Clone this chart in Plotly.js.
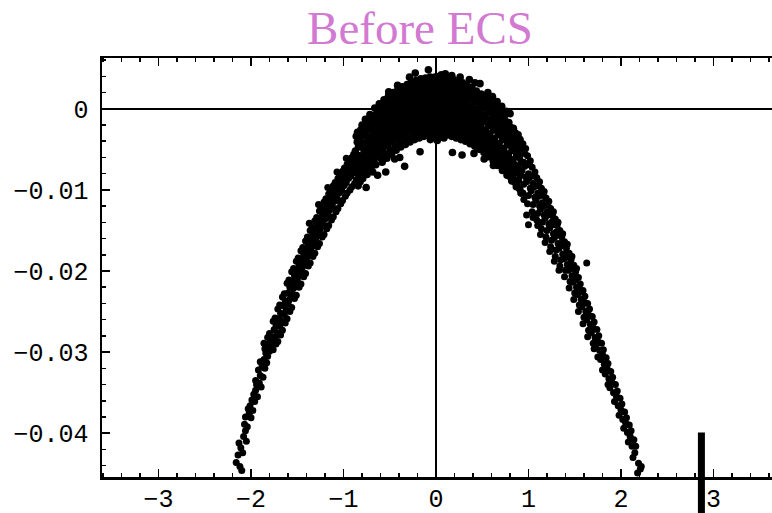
<!DOCTYPE html>
<html>
<head>
<meta charset="utf-8">
<script src="https://cdn.plot.ly/plotly-3.0.1.min.js"></script>
<style>
html,body{margin:0;padding:0;overflow:hidden;background:#fff;}
#chart{width:800px;height:513px;}
</style>
</head>
<body>
<div id="chart"></div>
<script>
// ---- data ----
const chartTitle = "Before ECS";
const xTickVals = [-3, -2, -1, 0, 1, 2, 3];
const yTickVals = [0, -0.01, -0.02, -0.03, -0.04];
const xRange = [-3.611, 3.936];
const yRange = [-0.0454, 0.00626];
const barX = 2.87;        // thick vertical marker bar
const barTopY = -0.0399;  // its upper end (data units)

const leftArm = [
[-2.16,-0.0436],[-2.14,-0.0427],[-2.12,-0.0441],[-2.10,-0.0446],[-2.11,-0.0418],[-2.09,-0.0424],[-2.13,-0.0412],
[-2.08,-0.0404],[-2.06,-0.0397],[-2.07,-0.0389],[-2.05,-0.0410],[-2.04,-0.0392],[-2.06,-0.0380],
[-2.02,-0.0376],[-2.00,-0.0381],[-2.01,-0.0366],[-1.99,-0.0359],[-2.03,-0.0370],[-1.98,-0.0372],
[-1.97,-0.0352],[-1.95,-0.0347],[-1.96,-0.0361],[-1.94,-0.0340],[-1.93,-0.0355],[-1.95,-0.0335],
[-1.91,-0.0338],[-1.90,-0.0329],[-1.92,-0.0322],[-1.89,-0.0343],[-1.88,-0.0317],[-1.90,-0.0312],[-1.87,-0.0331],
[-1.86,-0.0309],[-1.85,-0.0320],[-1.84,-0.0301],[-1.83,-0.0313],[-1.85,-0.0296],[-1.82,-0.0305],[-1.86,-0.0289],
[-1.81,-0.0290],[-1.80,-0.0299],[-1.79,-0.0283],[-1.78,-0.0294],[-1.80,-0.0277],[-1.77,-0.0286],[-1.82,-0.0282],[-1.76,-0.0297],
[-1.75,-0.0272],[-1.74,-0.0281],[-1.73,-0.0266],[-1.72,-0.0276],[-1.76,-0.0262],[-1.71,-0.0287],[-1.74,-0.0258],[-1.73,-0.0290],
[-1.70,-0.0259],[-1.69,-0.0268],[-1.68,-0.0252],[-1.67,-0.0262],[-1.71,-0.0247],[-1.66,-0.0273],[-1.69,-0.0242],[-1.68,-0.0279],
[-1.65,-0.0243],[-1.64,-0.0254],[-1.63,-0.0237],[-1.62,-0.0248],[-1.66,-0.0232],[-1.61,-0.0259],[-1.64,-0.0228],[-1.63,-0.0264],[-1.60,-0.0240],
[-1.60,-0.0227],[-1.59,-0.0236],[-1.58,-0.0220],[-1.57,-0.0232],[-1.61,-0.0215],[-1.56,-0.0245],[-1.59,-0.0211],[-1.58,-0.0250],[-1.55,-0.0228],
[-1.55,-0.0213],[-1.54,-0.0221],[-1.53,-0.0206],[-1.52,-0.0217],[-1.56,-0.0201],[-1.51,-0.0230],[-1.54,-0.0197],[-1.53,-0.0234],[-1.50,-0.0212],
[-1.50,-0.0199],[-1.49,-0.0207],[-1.48,-0.0193],[-1.47,-0.0203],[-1.51,-0.0188],[-1.46,-0.0216],[-1.49,-0.0184],[-1.48,-0.0220],[-1.45,-0.0198],[-1.47,-0.0190],
[-1.45,-0.0185],[-1.44,-0.0194],[-1.43,-0.0180],[-1.42,-0.0190],[-1.46,-0.0175],[-1.41,-0.0203],[-1.44,-0.0171],[-1.43,-0.0207],[-1.40,-0.0185],[-1.42,-0.0177],
[-1.40,-0.0173],[-1.39,-0.0181],[-1.38,-0.0167],[-1.37,-0.0178],[-1.41,-0.0163],[-1.36,-0.0190],[-1.39,-0.0158],[-1.38,-0.0194],[-1.35,-0.0172],[-1.37,-0.0165],
[-1.35,-0.0160],[-1.34,-0.0169],[-1.33,-0.0155],[-1.32,-0.0166],[-1.36,-0.0150],[-1.31,-0.0178],[-1.34,-0.0146],[-1.33,-0.0182],[-1.30,-0.0160],[-1.32,-0.0153],[-1.37,-0.0141],
[-1.30,-0.0148],[-1.29,-0.0157],[-1.28,-0.0143],[-1.27,-0.0154],[-1.31,-0.0138],[-1.26,-0.0166],[-1.29,-0.0134],[-1.28,-0.0170],[-1.25,-0.0148],[-1.27,-0.0141],
[-1.25,-0.0137],[-1.24,-0.0145],[-1.23,-0.0131],[-1.22,-0.0142],[-1.26,-0.0126],[-1.21,-0.0155],[-1.24,-0.0122],[-1.23,-0.0158],[-1.20,-0.0136],[-1.22,-0.0129],[-1.27,-0.0118],
[-1.20,-0.0126],[-1.19,-0.0134],[-1.18,-0.0120],[-1.17,-0.0131],[-1.21,-0.0115],[-1.16,-0.0144],[-1.19,-0.0111],[-1.18,-0.0148],[-1.15,-0.0125],[-1.17,-0.0118],
[-1.15,-0.0116],[-1.14,-0.0123],[-1.13,-0.0110],[-1.12,-0.0120],[-1.16,-0.0105],[-1.11,-0.0133],[-1.14,-0.0101],[-1.13,-0.0137],[-1.10,-0.0114],[-1.12,-0.0108],[-1.17,-0.0097],
[-1.10,-0.0106],[-1.09,-0.0113],[-1.08,-0.0100],[-1.07,-0.0110],[-1.11,-0.0095],[-1.06,-0.0123],[-1.09,-0.0091],[-1.08,-0.0127],[-1.05,-0.0104],[-1.07,-0.0098],
[-1.05,-0.0096],[-1.04,-0.0103],[-1.03,-0.0091],[-1.02,-0.0100],[-1.06,-0.0086],[-1.01,-0.0113],[-1.04,-0.0082],[-1.03,-0.0117],[-1.00,-0.0095],[-1.02,-0.0089],[-1.07,-0.0078],
[-1.00,-0.0087],[-0.99,-0.0094],[-0.98,-0.0082],[-0.97,-0.0091],[-1.01,-0.0077],[-0.96,-0.0104],[-0.99,-0.0073],[-0.98,-0.0108],[-0.95,-0.0086],[-0.97,-0.0080],
[-0.95,-0.0078],[-0.94,-0.0085],[-0.93,-0.0073],[-0.92,-0.0083],[-0.96,-0.0068],[-0.91,-0.0096],[-0.94,-0.0064],[-0.93,-0.0100],[-0.90,-0.0078],[-0.92,-0.0071],[-0.97,-0.0061],
[-0.90,-0.0070],[-0.89,-0.0077],[-0.88,-0.0065],[-0.87,-0.0075],[-0.91,-0.0060],[-0.86,-0.0088],[-0.89,-0.0056],[-0.88,-0.0092],[-0.86,-0.0069],[-0.87,-0.0062]
];

const cap = [
[-0.862,-0.0034],[-0.838,-0.0047],[-0.851,-0.0041],[-0.829,-0.0058],[-0.871,-0.0052],[-0.846,-0.0066],[-0.833,-0.0073],[-0.866,-0.0079],[-0.855,-0.0088],[-0.842,-0.0095],[-0.827,-0.0083],[-0.869,-0.0061],[-0.848,-0.0029],
[-0.812,-0.0026],[-0.787,-0.0033],[-0.803,-0.0045],[-0.824,-0.0039],[-0.778,-0.0051],[-0.796,-0.0058],[-0.817,-0.0064],[-0.784,-0.0071],[-0.808,-0.0077],[-0.792,-0.0086],[-0.821,-0.0090],[-0.776,-0.0062],[-0.799,-0.0020],
[-0.763,-0.0013],[-0.741,-0.0021],[-0.757,-0.0028],[-0.733,-0.0035],[-0.769,-0.0042],[-0.748,-0.0047],[-0.736,-0.0054],[-0.766,-0.0059],[-0.752,-0.0068],[-0.729,-0.0073],[-0.745,-0.0081],[-0.771,-0.0077],[-0.739,-0.0064],[-0.755,-0.0097],
[-0.714,-0.0007],[-0.689,-0.0013],[-0.706,-0.0019],[-0.723,-0.0025],[-0.681,-0.0031],[-0.697,-0.0036],[-0.718,-0.0043],[-0.686,-0.0049],[-0.709,-0.0055],[-0.693,-0.0061],[-0.721,-0.0066],[-0.701,-0.0072],[-0.684,-0.0078],[-0.712,-0.0040],
[-0.662,0.0001],[-0.641,-0.0006],[-0.657,-0.0012],[-0.634,-0.0018],[-0.672,-0.0023],[-0.649,-0.0029],[-0.629,-0.0034],[-0.666,-0.0040],[-0.645,-0.0046],[-0.654,-0.0052],[-0.637,-0.0058],[-0.669,-0.0063],[-0.651,-0.0069],[-0.643,-0.0026],[-0.631,-0.0082],
[-0.613,0.0006],[-0.592,0.0000],[-0.606,-0.0006],[-0.584,-0.0011],[-0.621,-0.0016],[-0.598,-0.0022],[-0.579,-0.0027],[-0.617,-0.0033],[-0.603,-0.0038],[-0.589,-0.0044],[-0.609,-0.0050],[-0.624,-0.0055],[-0.594,-0.0061],[-0.582,-0.0066],[-0.601,-0.0019],
[-0.562,0.0011],[-0.541,0.0005],[-0.556,-0.0001],[-0.534,-0.0007],[-0.571,-0.0012],[-0.548,-0.0017],[-0.528,-0.0023],[-0.566,-0.0028],[-0.552,-0.0034],[-0.537,-0.0039],[-0.559,-0.0045],[-0.574,-0.0050],[-0.545,-0.0056],[-0.531,-0.0061],[-0.554,-0.0020],[-0.543,-0.0078],
[-0.513,0.0016],[-0.491,0.0010],[-0.506,0.0004],[-0.484,-0.0002],[-0.521,-0.0007],[-0.498,-0.0012],[-0.478,-0.0018],[-0.517,-0.0023],[-0.502,-0.0029],[-0.488,-0.0034],[-0.509,-0.0040],[-0.524,-0.0045],[-0.494,-0.0051],[-0.481,-0.0056],[-0.504,-0.0015],[-0.511,0.0021],
[-0.463,0.0020],[-0.441,0.0014],[-0.456,0.0009],[-0.434,0.0003],[-0.471,-0.0002],[-0.448,-0.0008],[-0.428,-0.0013],[-0.467,-0.0018],[-0.452,-0.0024],[-0.437,-0.0029],[-0.459,-0.0035],[-0.474,-0.0040],[-0.444,-0.0046],[-0.431,-0.0051],[-0.454,-0.0010],[-0.446,-0.0062],
[-0.412,0.0024],[-0.391,0.0018],[-0.406,0.0013],[-0.384,0.0007],[-0.421,0.0002],[-0.398,-0.0004],[-0.378,-0.0009],[-0.417,-0.0014],[-0.402,-0.0020],[-0.388,-0.0025],[-0.409,-0.0031],[-0.424,-0.0036],[-0.394,-0.0042],[-0.381,-0.0047],[-0.404,-0.0006],[-0.392,-0.0060],[-0.415,0.0029],
[-0.363,0.0027],[-0.341,0.0021],[-0.356,0.0016],[-0.334,0.0010],[-0.371,0.0005],[-0.348,-0.0001],[-0.328,-0.0006],[-0.367,-0.0011],[-0.352,-0.0017],[-0.337,-0.0022],[-0.359,-0.0028],[-0.374,-0.0033],[-0.344,-0.0039],[-0.331,-0.0044],[-0.354,-0.0003],[-0.339,-0.0071],[-0.346,0.0013],
[-0.312,0.0030],[-0.291,0.0024],[-0.306,0.0019],[-0.284,0.0013],[-0.321,0.0008],[-0.298,0.0002],[-0.278,-0.0003],[-0.317,-0.0008],[-0.302,-0.0014],[-0.288,-0.0019],[-0.309,-0.0025],[-0.324,-0.0030],[-0.294,-0.0036],[-0.281,-0.0041],[-0.304,0.0005],[-0.286,0.0039],[-0.296,-0.0022],
[-0.263,0.0033],[-0.241,0.0027],[-0.256,0.0022],[-0.234,0.0016],[-0.271,0.0011],[-0.248,0.0005],[-0.228,0.0000],[-0.267,-0.0005],[-0.252,-0.0011],[-0.237,-0.0016],[-0.259,-0.0022],[-0.274,-0.0027],[-0.244,-0.0033],[-0.231,-0.0038],[-0.254,0.0008],[-0.224,0.0044],[-0.246,-0.0019],
[-0.212,0.0035],[-0.191,0.0029],[-0.206,0.0024],[-0.184,0.0018],[-0.221,0.0013],[-0.198,0.0007],[-0.178,0.0002],[-0.217,-0.0003],[-0.202,-0.0009],[-0.188,-0.0014],[-0.209,-0.0020],[-0.224,-0.0025],[-0.194,-0.0031],[-0.181,-0.0036],[-0.204,0.0010],[-0.186,-0.0017],[-0.172,-0.0053],[-0.214,0.0031],
[-0.163,0.0037],[-0.141,0.0031],[-0.156,0.0026],[-0.134,0.0020],[-0.171,0.0015],[-0.148,0.0009],[-0.128,0.0004],[-0.167,-0.0001],[-0.152,-0.0007],[-0.137,-0.0012],[-0.159,-0.0018],[-0.174,-0.0023],[-0.144,-0.0029],[-0.131,-0.0034],[-0.154,0.0012],[-0.146,-0.0021],[-0.161,0.0033],
[-0.112,0.0038],[-0.091,0.0032],[-0.106,0.0027],[-0.084,0.0021],[-0.121,0.0016],[-0.098,0.0010],[-0.078,0.0005],[-0.117,0.0000],[-0.102,-0.0006],[-0.088,-0.0011],[-0.109,-0.0017],[-0.124,-0.0022],[-0.094,-0.0028],[-0.081,-0.0033],[-0.104,0.0013],[-0.082,0.0048],[-0.096,-0.0019],[-0.114,0.0035],
[-0.063,0.0039],[-0.041,0.0033],[-0.056,0.0028],[-0.034,0.0022],[-0.071,0.0017],[-0.048,0.0011],[-0.028,0.0006],[-0.067,0.0001],[-0.052,-0.0005],[-0.037,-0.0010],[-0.059,-0.0016],[-0.074,-0.0021],[-0.044,-0.0027],[-0.031,-0.0032],[-0.054,0.0014],[-0.061,-0.0038],[-0.046,-0.0018],[-0.039,0.0036],
[-0.012,0.0039],[0.009,0.0034],[-0.006,0.0028],[0.016,0.0023],[-0.021,0.0017],[0.002,0.0012],[0.022,0.0006],[-0.017,0.0001],[-0.002,-0.0004],[0.012,-0.0010],[-0.009,-0.0015],[-0.024,-0.0021],[0.006,-0.0026],[0.019,-0.0032],[-0.004,0.0015],[0.014,-0.0039],[-0.014,-0.0018],[0.004,0.0031],
[0.037,0.0040],[0.059,0.0033],[0.044,0.0029],[0.066,0.0022],[0.029,0.0018],[0.052,0.0011],[0.072,0.0007],[0.033,0.0000],[0.048,-0.0005],[0.063,-0.0011],[0.041,-0.0016],[0.026,-0.0022],[0.056,-0.0027],[0.069,-0.0033],[0.046,0.0015],[0.058,0.0042],[0.039,-0.0019],[0.061,0.0036],
[0.088,0.0038],[0.109,0.0033],[0.094,0.0027],[0.116,0.0023],[0.079,0.0016],[0.102,0.0012],[0.122,0.0005],[0.083,0.0001],[0.098,-0.0006],[0.112,-0.0010],[0.091,-0.0017],[0.076,-0.0021],[0.106,-0.0028],[0.119,-0.0032],[0.096,0.0014],[0.101,0.0043],[0.086,-0.0036],[0.111,-0.0019],
[0.137,0.0038],[0.159,0.0032],[0.144,0.0026],[0.166,0.0021],[0.129,0.0015],[0.152,0.0010],[0.172,0.0004],[0.133,-0.0001],[0.148,-0.0007],[0.163,-0.0012],[0.141,-0.0018],[0.126,-0.0023],[0.156,-0.0029],[0.169,-0.0034],[0.146,0.0013],[0.171,0.0041],[0.178,-0.0054],[0.154,-0.0020],
[0.188,0.0036],[0.209,0.0030],[0.194,0.0024],[0.216,0.0019],[0.179,0.0013],[0.202,0.0008],[0.222,0.0002],[0.183,-0.0003],[0.198,-0.0009],[0.212,-0.0014],[0.191,-0.0020],[0.176,-0.0025],[0.206,-0.0031],[0.219,-0.0036],[0.196,0.0011],[0.204,-0.0017],[0.186,0.0033],
[0.237,0.0034],[0.259,0.0028],[0.244,0.0022],[0.266,0.0017],[0.229,0.0011],[0.252,0.0006],[0.272,0.0000],[0.233,-0.0005],[0.248,-0.0011],[0.263,-0.0016],[0.241,-0.0022],[0.226,-0.0027],[0.256,-0.0033],[0.269,-0.0038],[0.246,0.0009],[0.261,0.0039],[0.282,-0.0057],[0.254,-0.0019],
[0.288,0.0032],[0.309,0.0026],[0.294,0.0020],[0.316,0.0015],[0.279,0.0009],[0.302,0.0004],[0.322,-0.0002],[0.283,-0.0007],[0.298,-0.0013],[0.312,-0.0018],[0.291,-0.0024],[0.276,-0.0029],[0.306,-0.0035],[0.319,-0.0040],[0.296,0.0007],[0.304,-0.0021],[0.311,0.0029],
[0.337,0.0029],[0.359,0.0023],[0.344,0.0017],[0.366,0.0012],[0.329,0.0006],[0.352,0.0001],[0.372,-0.0005],[0.333,-0.0010],[0.348,-0.0016],[0.363,-0.0021],[0.341,-0.0027],[0.326,-0.0032],[0.356,-0.0038],[0.369,-0.0043],[0.346,0.0004],[0.361,0.0036],[0.354,-0.0024],
[0.388,0.0026],[0.409,0.0020],[0.394,0.0014],[0.416,0.0009],[0.379,0.0003],[0.402,-0.0002],[0.422,-0.0008],[0.383,-0.0013],[0.398,-0.0019],[0.412,-0.0024],[0.391,-0.0030],[0.376,-0.0035],[0.406,-0.0041],[0.419,-0.0046],[0.396,0.0001],[0.421,0.0032],[0.404,-0.0027],[0.411,-0.0055],
[0.437,0.0022],[0.459,0.0016],[0.444,0.0010],[0.466,0.0005],[0.429,-0.0001],[0.452,-0.0006],[0.472,-0.0012],[0.433,-0.0017],[0.448,-0.0023],[0.463,-0.0028],[0.441,-0.0034],[0.426,-0.0039],[0.456,-0.0045],[0.469,-0.0050],[0.446,-0.0003],[0.476,0.0031],[0.454,-0.0031],
[0.488,0.0018],[0.509,0.0012],[0.494,0.0006],[0.516,0.0001],[0.479,-0.0005],[0.502,-0.0010],[0.522,-0.0016],[0.483,-0.0021],[0.498,-0.0027],[0.512,-0.0032],[0.491,-0.0038],[0.476,-0.0043],[0.506,-0.0049],[0.519,-0.0054],[0.496,-0.0007],[0.504,-0.0035],[0.521,-0.0062],
[0.537,0.0013],[0.559,0.0007],[0.544,0.0001],[0.566,-0.0004],[0.529,-0.0010],[0.552,-0.0015],[0.572,-0.0021],[0.533,-0.0026],[0.548,-0.0032],[0.563,-0.0037],[0.541,-0.0043],[0.526,-0.0048],[0.556,-0.0054],[0.569,-0.0059],[0.546,-0.0012],[0.561,0.0020],[0.554,-0.0040],
[0.588,0.0008],[0.609,0.0002],[0.594,-0.0004],[0.616,-0.0009],[0.579,-0.0015],[0.602,-0.0020],[0.622,-0.0026],[0.583,-0.0031],[0.598,-0.0037],[0.612,-0.0042],[0.591,-0.0048],[0.576,-0.0053],[0.606,-0.0059],[0.619,-0.0064],[0.596,-0.0017],[0.611,0.0015],[0.604,-0.0045],[0.621,-0.0070],
[0.637,0.0002],[0.659,-0.0004],[0.644,-0.0010],[0.666,-0.0015],[0.629,-0.0021],[0.652,-0.0026],[0.672,-0.0032],[0.633,-0.0037],[0.648,-0.0043],[0.663,-0.0048],[0.641,-0.0054],[0.626,-0.0059],[0.656,-0.0065],[0.669,-0.0070],[0.646,-0.0023],[0.661,0.0009],[0.654,-0.0051],
[0.688,-0.0004],[0.709,-0.0010],[0.694,-0.0016],[0.716,-0.0021],[0.679,-0.0027],[0.702,-0.0032],[0.722,-0.0038],[0.683,-0.0043],[0.698,-0.0049],[0.712,-0.0054],[0.691,-0.0060],[0.676,-0.0065],[0.706,-0.0071],[0.719,-0.0076],[0.696,-0.0029],[0.711,0.0003],[0.704,-0.0057],
[0.737,-0.0010],[0.759,-0.0016],[0.744,-0.0022],[0.766,-0.0027],[0.729,-0.0033],[0.752,-0.0038],[0.772,-0.0044],[0.733,-0.0049],[0.748,-0.0055],[0.763,-0.0060],[0.741,-0.0066],[0.726,-0.0071],[0.756,-0.0077],[0.769,-0.0082],[0.746,-0.0035],[0.761,-0.0003],[0.754,-0.0063],
[0.788,-0.0017],[0.809,-0.0023],[0.794,-0.0029],[0.816,-0.0034],[0.779,-0.0040],[0.802,-0.0045],[0.822,-0.0051],[0.783,-0.0056],[0.798,-0.0062],[0.812,-0.0067],[0.791,-0.0073],[0.776,-0.0078],[0.806,-0.0084],[0.819,-0.0089],[0.796,-0.0042],[0.801,-0.0006],[0.804,-0.0070],
[0.837,-0.0024],[0.859,-0.0030],[0.844,-0.0036],[0.866,-0.0041],[0.829,-0.0047],[0.852,-0.0052],[0.872,-0.0058],[0.833,-0.0063],[0.848,-0.0069],[0.863,-0.0074],[0.841,-0.0080],[0.826,-0.0085],[0.856,-0.0091],[0.869,-0.0096],[0.846,-0.0049],[0.854,-0.0077],
[0.888,-0.0032],[0.909,-0.0038],[0.894,-0.0044],[0.916,-0.0049],[0.879,-0.0055],[0.902,-0.0060],[0.922,-0.0066],[0.883,-0.0071],[0.898,-0.0077],[0.912,-0.0082],[0.891,-0.0088],[0.876,-0.0093],[0.906,-0.0099],[0.919,-0.0104],[0.896,-0.0057]
];

const rightArm = [
[0.94,-0.0043],[0.96,-0.0055],[0.95,-0.0066],[0.93,-0.0076],[0.97,-0.0084],[0.95,-0.0093],[0.94,-0.0104],[0.96,-0.0071],[0.97,-0.0049],[0.95,-0.0112],
[0.99,-0.0058],[1.01,-0.0069],[1.00,-0.0080],[0.98,-0.0090],[1.02,-0.0098],[1.00,-0.0107],[0.99,-0.0117],[1.01,-0.0085],[1.02,-0.0064],[0.98,-0.0131],[1.00,-0.0143],
[1.04,-0.0072],[1.06,-0.0083],[1.05,-0.0092],[1.03,-0.0101],[1.07,-0.0109],[1.05,-0.0118],[1.04,-0.0127],[1.06,-0.0096],[1.07,-0.0078],[1.05,-0.0134],
[1.09,-0.0085],[1.11,-0.0095],[1.10,-0.0104],[1.08,-0.0113],[1.12,-0.0120],[1.10,-0.0129],[1.09,-0.0137],[1.11,-0.0108],[1.12,-0.0090],[1.10,-0.0144],
[1.14,-0.0098],[1.16,-0.0107],[1.15,-0.0116],[1.13,-0.0124],[1.17,-0.0131],[1.15,-0.0140],[1.14,-0.0148],[1.16,-0.0120],[1.17,-0.0102],[1.13,-0.0155],
[1.19,-0.0110],[1.21,-0.0119],[1.20,-0.0127],[1.18,-0.0135],[1.22,-0.0142],[1.20,-0.0150],[1.19,-0.0158],[1.21,-0.0131],[1.22,-0.0114],[1.18,-0.0165],
[1.24,-0.0123],[1.26,-0.0132],[1.25,-0.0140],[1.23,-0.0147],[1.27,-0.0154],[1.25,-0.0162],[1.24,-0.0170],[1.26,-0.0143],[1.27,-0.0127],[1.23,-0.0176],
[1.29,-0.0136],[1.31,-0.0144],[1.30,-0.0152],[1.28,-0.0159],[1.32,-0.0166],[1.30,-0.0174],[1.29,-0.0182],[1.31,-0.0156],[1.32,-0.0140],[1.28,-0.0188],
[1.34,-0.0150],[1.36,-0.0158],[1.35,-0.0166],[1.33,-0.0172],[1.37,-0.0179],[1.35,-0.0186],[1.34,-0.0194],[1.36,-0.0169],[1.37,-0.0154],[1.33,-0.0199],
[1.39,-0.0164],[1.41,-0.0172],[1.40,-0.0179],[1.38,-0.0185],[1.42,-0.0192],[1.40,-0.0199],[1.39,-0.0207],[1.41,-0.0183],[1.42,-0.0167],
[1.44,-0.0178],[1.46,-0.0186],[1.45,-0.0193],[1.43,-0.0199],[1.47,-0.0206],[1.45,-0.0213],[1.44,-0.0221],[1.46,-0.0197],[1.47,-0.0182],
[1.49,-0.0193],[1.51,-0.0201],[1.50,-0.0208],[1.48,-0.0214],[1.52,-0.0220],[1.50,-0.0227],[1.49,-0.0235],[1.51,-0.0211],[1.52,-0.0197],
[1.54,-0.0208],[1.56,-0.0216],[1.55,-0.0223],[1.53,-0.0229],[1.57,-0.0235],[1.55,-0.0242],[1.54,-0.0250],[1.56,-0.0226],
[1.59,-0.0224],[1.61,-0.0231],[1.60,-0.0238],[1.58,-0.0244],[1.62,-0.0250],[1.60,-0.0257],[1.59,-0.0265],[1.63,-0.0190],
[1.64,-0.0240],[1.66,-0.0247],[1.65,-0.0254],[1.63,-0.0260],[1.67,-0.0266],[1.65,-0.0273],[1.64,-0.0281],
[1.69,-0.0256],[1.71,-0.0263],[1.70,-0.0270],[1.68,-0.0276],[1.72,-0.0282],[1.70,-0.0289],[1.71,-0.0296],
[1.74,-0.0272],[1.76,-0.0280],[1.75,-0.0287],[1.73,-0.0292],[1.77,-0.0298],[1.75,-0.0306],
[1.79,-0.0289],[1.81,-0.0297],[1.80,-0.0303],[1.78,-0.0309],[1.82,-0.0315],[1.80,-0.0322],
[1.84,-0.0307],[1.86,-0.0314],[1.85,-0.0320],[1.83,-0.0327],[1.87,-0.0333],[1.86,-0.0340],
[1.89,-0.0324],[1.91,-0.0331],[1.90,-0.0337],[1.88,-0.0344],[1.92,-0.0350],
[1.94,-0.0340],[1.96,-0.0348],[1.95,-0.0354],[1.93,-0.0361],[1.97,-0.0366],
[1.99,-0.0357],[2.01,-0.0364],[2.00,-0.0371],[1.98,-0.0378],[2.02,-0.0383],
[2.04,-0.0374],[2.06,-0.0381],[2.05,-0.0387],[2.03,-0.0394],[2.07,-0.0399],
[2.09,-0.0390],[2.11,-0.0397],[2.10,-0.0404],[2.08,-0.0411],[2.12,-0.0416],
[2.14,-0.0408],[2.16,-0.0416],[2.15,-0.0424],[2.13,-0.0430],
[2.19,-0.0437],[2.21,-0.0444],[2.18,-0.0449],[2.22,-0.0441]
];

// ---- build chart ----
const armPts = leftArm.concat(rightArm);

const tickFont = {family: "Liberation Mono, Courier New, monospace", size: 25, color: "#000"};

const armTrace = {
  type: "scatter", mode: "markers",
  x: armPts.map(p => p[0]), y: armPts.map(p => p[1]),
  marker: {color: "#000", size: 7, line: {width: 0}},
  hoverinfo: "skip", showlegend: false
};
const capTrace = {
  type: "scatter", mode: "markers",
  x: cap.map(p => p[0]), y: cap.map(p => p[1]),
  marker: {color: "#000", size: 7.6, line: {width: 0}},
  hoverinfo: "skip", showlegend: false
};

const barTopPaper = (barTopY - yRange[0]) / (yRange[1] - yRange[0]);

const layout = {
  width: 800, height: 513,
  margin: {l: 102, r: 0, t: 58, b: 36, pad: 0},
  paper_bgcolor: "#fff", plot_bgcolor: "#fff",
  showlegend: false,
  title: {
    text: chartTitle,
    font: {family: "Liberation Serif, Times New Roman, serif", size: 47, color: "#d27ad2"},
    xref: "container", x: 420 / 800, xanchor: "center",
    yref: "container", y: 1 - 28 / 513, yanchor: "middle"
  },
  xaxis: {
    range: xRange, tickvals: xTickVals, ticks: "inside", ticklen: 8, tickwidth: 1.5, tickcolor: "#000",
    minor: {dtick: 0.2, tick0: 0, ticks: "inside", ticklen: 4, tickwidth: 1.5, tickcolor: "#000", showgrid: false},
    showline: true, linecolor: "#000", linewidth: 2.5, mirror: "ticks",
    zeroline: true, zerolinecolor: "#000", zerolinewidth: 2,
    showgrid: false, tickfont: tickFont, ticklabelstandoff: -3, fixedrange: true
  },
  yaxis: {
    range: yRange, tickvals: yTickVals, ticks: "inside", ticklen: 8, tickwidth: 1.5, tickcolor: "#000",
    minor: {dtick: 0.002, tick0: 0, ticks: "inside", ticklen: 4, tickwidth: 1.5, tickcolor: "#000", showgrid: false},
    showline: true, linecolor: "#000", linewidth: 2.5, mirror: "ticks",
    zeroline: true, zerolinecolor: "#000", zerolinewidth: 2,
    showgrid: false, tickfont: tickFont, ticklabelstandoff: 6, fixedrange: true
  },
  shapes: [{
    type: "line", xref: "x", yref: "paper",
    x0: barX, x1: barX, y0: barTopPaper, y1: -0.2,
    line: {color: "#000", width: 7}, layer: "above"
  }]
};

Plotly.newPlot("chart", [armTrace, capTrace], layout, {displayModeBar: false, staticPlot: true});
</script>
</body>
</html>
